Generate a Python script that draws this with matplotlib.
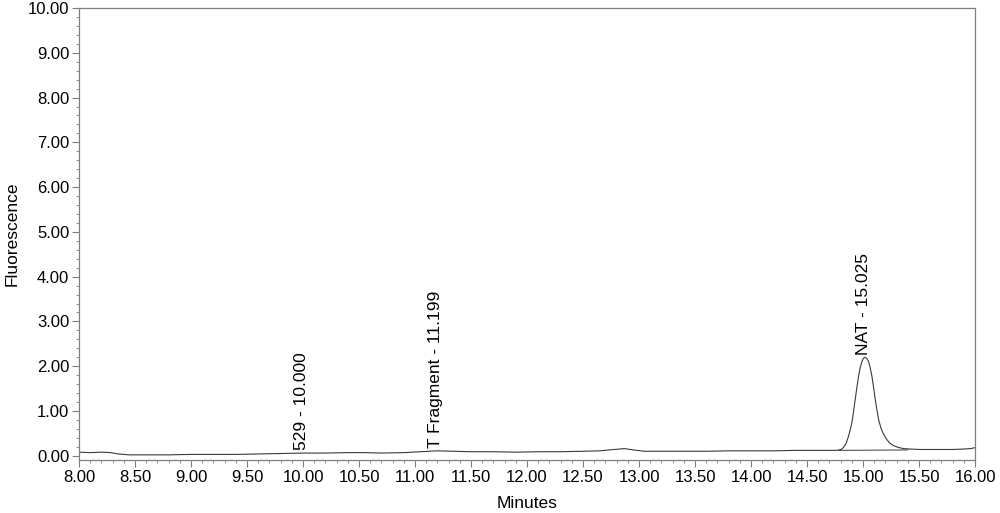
import matplotlib
matplotlib.use("Agg")
import matplotlib.pyplot as plt
from matplotlib.ticker import MultipleLocator, FormatStrFormatter

# Chromatogram trace (minutes, fluorescence)
minutes = [8.00, 8.10, 8.20, 8.28, 8.35, 8.45, 8.60, 8.80, 9.00, 9.20, 9.40, 9.60,
           9.80, 10.00, 10.20, 10.40, 10.55, 10.70, 10.90, 11.05, 11.20, 11.35,
           11.50, 11.70, 11.90, 12.10, 12.30, 12.50, 12.65, 12.78, 12.87, 12.95,
           13.05, 13.20, 13.40, 13.60, 13.80, 14.00, 14.20, 14.40, 14.60, 14.70,
           14.76, 14.79, 14.81, 14.83, 14.85, 14.87, 14.885, 14.90, 14.915, 14.93,
           14.945, 14.96, 14.975, 14.99, 15.005, 15.02, 15.035, 15.05, 15.065,
           15.08, 15.095, 15.11, 15.125, 15.14, 15.16, 15.18, 15.21, 15.24, 15.27,
           15.31, 15.36, 15.42, 15.51, 15.60, 15.70, 15.80, 15.90, 15.96, 16.00]
signal = [0.08, 0.07, 0.08, 0.07, 0.04, 0.02, 0.02, 0.02, 0.03, 0.03, 0.03, 0.04,
          0.05, 0.06, 0.06, 0.07, 0.07, 0.06, 0.07, 0.09, 0.11, 0.10,
          0.09, 0.09, 0.08, 0.09, 0.09, 0.10, 0.11, 0.14, 0.16, 0.13,
          0.10, 0.10, 0.10, 0.10, 0.11, 0.11, 0.11, 0.12, 0.12, 0.12,
          0.12, 0.13, 0.15, 0.20, 0.28, 0.43, 0.57, 0.73, 0.98, 1.25,
          1.52, 1.77, 1.97, 2.10, 2.18, 2.20, 2.17, 2.10, 1.96,
          1.77, 1.52, 1.25, 1.01, 0.80, 0.62, 0.50, 0.37, 0.28, 0.23,
          0.19, 0.16, 0.15, 0.14, 0.14, 0.14, 0.14, 0.15, 0.16, 0.18]

# Integration baseline under the main peak
base_t = [14.78, 15.40]
base_v = [0.12, 0.13]

# Peak labels
peak_names = ["529 - 10.000", "T Fragment - 11.199", "NAT - 15.025"]
peak_times = [9.99, 11.18, 15.00]
peak_heights = [0.06, 0.11, 2.20]

x_ticks = [8.0 + 0.5 * i for i in range(17)]
y_ticks = [float(i) for i in range(11)]

plt.rcParams['font.family'] = ['Liberation Sans', 'DejaVu Sans']

fig = plt.figure(figsize=(10, 5.13), dpi=100)
ax = fig.add_axes([0.079, 0.1033, 0.896, 0.8811])

line_col = "#3a3a3a"
frame_col = "#7f7f7f"

ax.plot(minutes, signal, color=line_col, lw=0.8)
ax.plot(base_t, base_v, color=line_col, lw=0.7)

for name, t, h in zip(peak_names, peak_times, peak_heights):
    ax.text(t, h + 0.06, name, rotation=90, ha='center', va='bottom',
            fontsize=12.5, color='black')

ax.set_xlim(8.0, 16.0)
ax.set_ylim(-0.095, 10.0)
ax.set_xticks(x_ticks)
ax.set_yticks(y_ticks)
ax.xaxis.set_major_formatter(FormatStrFormatter('%.2f'))
ax.yaxis.set_major_formatter(FormatStrFormatter('%.2f'))
ax.xaxis.set_minor_locator(MultipleLocator(0.1))
ax.yaxis.set_minor_locator(MultipleLocator(0.2))

ax.tick_params(axis='both', which='major', direction='out', length=5,
               width=0.8, color=frame_col, labelsize=12, pad=2)
ax.tick_params(axis='both', which='minor', direction='out', length=2.5,
               width=0.6, color=frame_col)

for sp in ax.spines.values():
    sp.set_color(frame_col)
    sp.set_linewidth(0.9)

ax.set_xlabel("Minutes", fontsize=12.5, labelpad=8)
ax.set_ylabel("Fluorescence", fontsize=12.5, labelpad=6)

fig.savefig("out.png", dpi=100)
